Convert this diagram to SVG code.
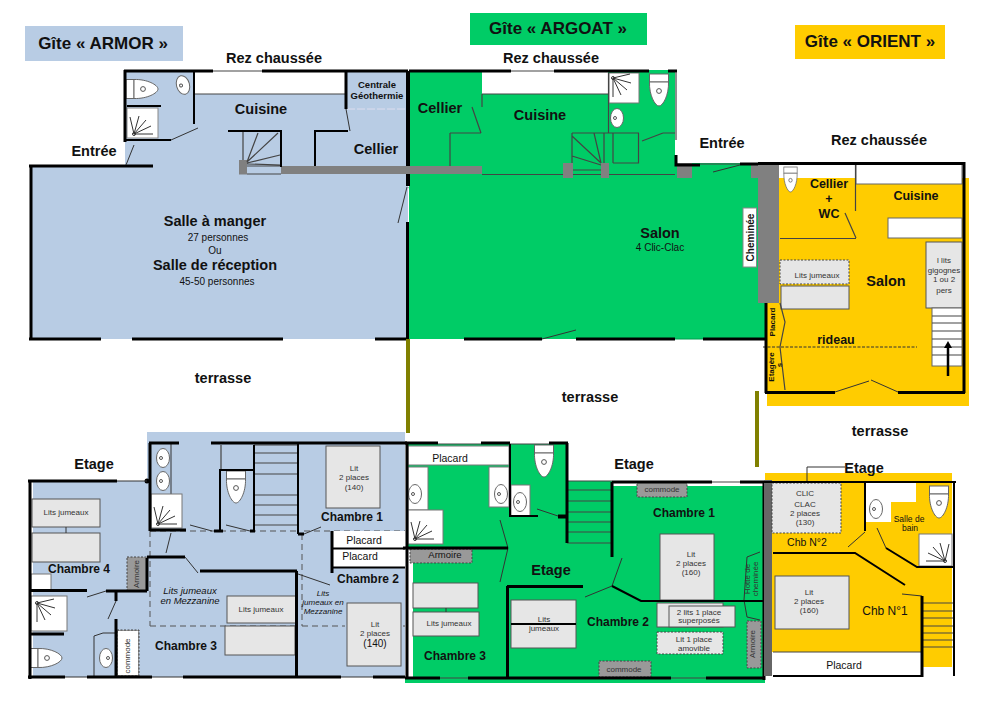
<svg xmlns="http://www.w3.org/2000/svg" xmlns:xlink="http://www.w3.org/1999/xlink" width="1000" height="708" viewBox="0 0 1000 708">
<style>
text{font-family:"Liberation Sans",Arial,sans-serif;fill:#111;text-anchor:middle}
.b{font-weight:bold}
.h{font-weight:bold;font-size:17px}
.r{font-weight:bold;font-size:14.5px}
.m{font-weight:bold;font-size:12px}
.s{font-size:10px}
.x{font-size:8px;fill:#333}
.w,.w2,.w3,.t,.d,.sl{fill:none;stroke-linecap:butt}
.w{stroke:#000;stroke-width:3}
.w2{stroke:#000;stroke-width:2}
.w3{stroke:#000;stroke-width:4}
.t{stroke:#333;stroke-width:1}
.sl{stroke:#444;stroke-width:1.2}
.d{stroke:#555;stroke-width:1;stroke-dasharray:6 4}
.bed{fill:#e6e6e6;stroke:#555;stroke-width:1}
.bd{fill:#e6e6e6;stroke:#444;stroke-width:1;stroke-dasharray:2 1.5}
.g{fill:#808080}
.gd{fill:#999;stroke:#444;stroke-width:1;stroke-dasharray:2 1.5}
.wh{fill:#fff;stroke:#777;stroke-width:1}
.olive{stroke:#808000;stroke-width:4;fill:none}
</style>
<defs>
<g id="fan"><circle r="1.5" fill="none" stroke="#333"/><path class="t" d="M0,0L-4,-17M0,0L5,-18M0,0L12,-14M0,0L17,-8M0,0L19,0"/></g>
<g id="wc"><rect x="-9.500" y="0" width="19" height="8" fill="#fff" stroke="#666"/><path d="M-9.500,8H9.500C10,21 4,32 0,32C-4,32 -10,21 -9.500,8Z" fill="#fff" stroke="#666"/><circle cy="17" r="2.400" fill="none" stroke="#555"/></g>
<g id="sink"><ellipse rx="6.500" ry="9.500" fill="#fff" stroke="#666"/><circle cx="-2" r="1.500" fill="none" stroke="#555"/></g>
</defs>
<rect width="1000" height="708" fill="#fff"/>

<g id="titres">
<rect x="25" y="26" width="158" height="35" fill="#b8cce4"/>
<text x="103" y="49" class="h">Gîte « ARMOR »</text>
<rect x="470" y="13" width="177" height="32" fill="#00cc66"/>
<text x="558" y="34" class="h">Gîte « ARGOAT »</text>
<rect x="795" y="25" width="150" height="34" fill="#ffcc00"/>
<text x="870" y="47" class="h">Gîte « ORIENT »</text>
</g>

<g id="armor-rdc">
<path d="M125,72H408V339H31V166H125Z" fill="#b8cce4"/>
<rect x="194" y="72" width="152" height="22" fill="#fff"/>
<path class="sl" d="M195,94H346"/>
<rect x="127" y="108" width="31" height="30" fill="#fff" stroke="#888"/>
<use xlink:href="#fan" transform="translate(134,134)"/>
<use xlink:href="#wc" transform="translate(126,89) rotate(-90)"/>
<use xlink:href="#sink" transform="translate(183,85) rotate(-15)"/>
<path d="M347,109H408" stroke="#dde" stroke-width="1" stroke-dasharray="8 2"/>
<rect x="281" y="166" width="201" height="8" class="g"/>
<rect x="239" y="160" width="8" height="14.500" class="g"/>
<path class="sl" d="M247,166H281M247,174H281M243,131V160M247,162L258,133M247,162L278,133M247,163L280,155M247,164L281,165"/>
<path class="w" d="M124,71H213M262,71H408M125,70V142M346,70V109"/>
<path class="sl" d="M213,71H262"/>
<path class="w2" d="M127,106H161M125,140H171M194,72V124M228,131H282M281,131V167M315,166V131H348"/>
<path class="w3" d="M408,71V186M408,222V339"/>
<path class="w" d="M29,166H153M31,165V339M29,339H101M132,339H283M375,339H408"/>
<path class="t" d="M171,140L198,128M346,109L350,131M134,145L126,165M407,187L398,223M409,187L419,223"/>
<text x="94" y="156" class="r">Entrée</text>
<text x="274" y="63" class="r">Rez chaussée</text>
<text x="261" y="114" class="r">Cuisine</text>
<text x="376" y="154" class="r">Cellier</text>
<text x="377" y="88" font-size="9.500" class="b">Centrale</text>
<text x="377" y="99" font-size="9.500" class="b">Géothermie</text>
<text x="215" y="226" class="r">Salle à manger</text>
<text x="218" y="241" class="s">27 personnes</text>
<text x="215" y="254" class="s">Ou</text>
<text x="215" y="270" class="r">Salle de réception</text>
<text x="217" y="285" class="s">45-50 personnes</text>
<text x="223" y="383" class="r">terrasse</text>
</g>

<g id="argoat-rdc">
<path d="M409,72H675V163H758V339H409Z" fill="#00cc66"/>
<rect x="758" y="175" width="9" height="164" fill="#00cc66"/>
<rect x="482" y="72" width="126" height="22" fill="#fff"/>
<rect x="400" y="166" width="82" height="8" class="g"/>
<path class="w3" d="M408,71V166M408,174V186"/>
<path class="sl" d="M482,94H608M482,94V107"/>
<rect x="609" y="73" width="30" height="30" fill="#fff" stroke="#777"/>
<use xlink:href="#fan" transform="translate(613,78) rotate(90)"/>
<use xlink:href="#wc" transform="translate(659,74)"/>
<use xlink:href="#sink" transform="translate(617,118)"/>
<path class="sl" d="M608.500,73V133M572,133H639M572,133V165M604,133V163M613,133V163M638.500,133V163H613M572,136L601,163M572,156L601,165M594,133L601,163M482,174.500H675M573,170H601M642,141L663,133M663,133H675M450,133H481M450,133V166M472,107L481,133"/>
<rect x="563" y="163" width="10" height="15" class="g"/>
<rect x="601" y="163" width="8" height="15" class="g"/>
<rect x="677" y="163" width="15" height="15" class="g"/>
<rect x="751" y="163" width="7" height="15" class="g"/>
<path class="w" d="M409,71H511M554,71H649M668,71H677"/>
<path class="sl" d="M511,71H554M676,72V140M700,164H740"/>
<path stroke="#00cc66" stroke-width="2" d="M649,71H668"/>
<path class="w" d="M676,155V165H700M740,164H765M464,339H542M576,339H675M703,339H766"/>
<path class="t" d="M542,339L576,330M713,172L740,165"/>
<path d="M675,339H703" stroke="#00a050" stroke-width="1"/>
<text x="551" y="63" class="r">Rez chaussée</text>
<text x="722" y="148" class="r">Entrée</text>
<text x="440" y="113" class="r">Cellier</text>
<text x="540" y="120" class="r">Cuisine</text>
<text x="660" y="238" class="r">Salon</text>
<text x="660" y="251" class="s">4 Clic-Clac</text>
<text x="590" y="402" class="r">terrasse</text>
</g>

<path class="olive" d="M408,339V433M757,391V467"/>

<g id="orient-rdc">
<rect x="767" y="178" width="202" height="228" fill="#ffcc00"/>
<rect x="780" y="164" width="75" height="14" fill="#fff"/>
<rect x="758" y="163" width="21" height="140" class="g"/>
<rect x="743" y="208" width="13.500" height="59" fill="#fff" stroke="#888"/>
<text transform="translate(753.500,237.500) rotate(-90)" font-size="10" class="b">Cheminée</text>
<rect x="856" y="164" width="106" height="20" fill="#fff" stroke="#666"/>
<rect x="888" y="218" width="74" height="20" fill="#fff" stroke="#666"/>
<rect x="926" y="242" width="36" height="66" class="bed"/>
<rect x="932" y="308" width="30" height="58" fill="#fff" stroke="#666"/>
<path class="sl" d="M932,316H962M932,323H962M932,331H962M932,339H962M932,347H962M932,355H962"/>
<path d="M948,376V346" stroke="#000" stroke-width="2.500"/>
<path d="M944,348L948,341L952,348Z" fill="#000"/>
<rect x="780" y="260" width="69" height="24" class="bd"/>
<rect x="781" y="286" width="68" height="23" class="bed"/>
<use xlink:href="#wc" transform="translate(790.500,167) scale(.7,.78)"/>
<path class="sl" d="M855.500,164V211M780,238.500H856M845,213L856,238M780,303L785,322L780,347L785,390"/>
<path d="M763,347H917" stroke="#333" stroke-dasharray="3 1.500" fill="none"/>
<path class="t" d="M835,392L869,381M871,380L898,392"/>
<path class="w" d="M758,163.500H965M964,162V393M765,392.500H835M898,392.500H965"/>
<path class="w" d="M766,303V393"/>
<text x="879" y="145" class="r">Rez chaussée</text>
<text x="829" y="188" font-size="12.500" class="b">Cellier</text>
<text x="829" y="203" font-size="12.500" class="b">+</text>
<text x="829" y="218" font-size="12.500" class="b">WC</text>
<text x="916" y="200" font-size="12.500" class="b">Cuisine</text>
<text x="886" y="286" class="r">Salon</text>
<text x="836" y="344" font-size="12.500" class="b">rideau</text>
<text x="817" y="278" class="x">Lits jumeaux</text>
<text x="944" y="263" class="x">l lits</text>
<text x="944" y="273" class="x">gigognes</text>
<text x="944" y="282" class="x">1 ou 2</text>
<text x="944" y="293" class="x">pers</text>
<text transform="translate(775,322) rotate(-90)" font-size="8" class="b">Placard</text>
<text transform="translate(774,367) rotate(-90)" font-size="8" class="b">Etagère</text>
<text transform="translate(782,365) rotate(-90)" font-size="8" class="b">s</text>
<text x="880" y="436" class="r">terrasse</text>
</g>

<g id="armor-etage">
<path d="M147,432H405V677H33V481H147Z" fill="#b8cce4"/>
<path class="d" d="M150,531V626M150,626H296M302,534V626M302,626H345M373,626H405M150,531H298M304,531H405"/>
<rect x="31" y="574" width="20" height="17" fill="#fff" stroke="#777"/>
<rect x="32" y="499" width="68" height="28" class="bed"/>
<rect x="32" y="533" width="68" height="29" class="bed"/>
<path class="t" d="M66,527V533"/>
<rect x="127" y="557" width="20" height="34" class="gd"/>
<rect x="117" y="630" width="22" height="46" class="gd"/>
<rect x="118" y="631" width="20" height="44" fill="#fff"/>
<rect x="31" y="596" width="36" height="35" fill="#fff" stroke="#777"/>
<use xlink:href="#fan" transform="translate(37,603) rotate(90)"/>
<use xlink:href="#wc" transform="translate(30,658) rotate(-90)"/>
<path class="t" d="M94,676V636L103,633H116"/>
<use xlink:href="#sink" transform="translate(106,658) rotate(180)"/>
<use xlink:href="#sink" transform="translate(163,458)"/>
<use xlink:href="#sink" transform="translate(163,481)"/>
<path class="t" d="M171,444V495"/>
<rect x="151" y="494" width="31" height="34" fill="#fff" stroke="#777"/>
<use xlink:href="#fan" transform="translate(158,524)"/>
<use xlink:href="#wc" transform="translate(236,471)"/>
<path class="sl" d="M221,445V470M254,445H298M254,453H298M254,463H298M254,474H298M254,495H298M254,505H298M254,515H298M254,525H298"/>
<rect x="326" y="446" width="54" height="62" class="bed"/>
<rect x="347" y="603" width="54" height="63" class="bed"/>
<rect x="227" y="596" width="69" height="27" class="bed"/>
<rect x="225" y="626" width="70" height="29" class="bed"/>
<rect x="333" y="531" width="72" height="17" fill="#fff"/>
<rect x="333" y="549" width="72" height="18" fill="#fff"/>
<path class="w2" d="M333,548.500H405M333,567.500H405"/>
<path class="w" d="M150,443V531M149,443H179M211,443H407M28,481H117M30,480V679M28,677H65M87,677H152M183,677H341M373,677H405"/>
<path class="w2" d="M254,445V531M298,443V534M220,531V470H254"/>
<path class="w" d="M214,531H223M250,531H255M150,530H186M298,534H304M296.500,571V677M200,571H297M147,557H185M29,590.500H87M106,591H147M147,558V591M30,634H64M116,591V601M116,619V678M332,531V573"/>
<circle cx="147" cy="481" r="2.500"/>
<path class="t" d="M117,481H147M65,677H87M152,677H183M341,677H373"/>
<path class="t" d="M190,525L212,531M226,525L250,531M304,534L321,527M298,574L330,585M185,557L198,573M171,533L166,553M87,597L106,591M116,601L108,619"/>
<text x="94" y="469" class="r">Etage</text>
<text x="79" y="573" class="m">Chambre 4</text>
<text x="186" y="650" class="m">Chambre 3</text>
<text x="352" y="521" class="m">Chambre 1</text>
<text x="368" y="583" class="m">Chambre 2</text>
<text x="190" y="594" font-size="9.500" font-style="italic">Lits jumeaux</text>
<text x="190" y="604" font-size="9.500" font-style="italic">en Mezzanine</text>
<text x="323" y="596" font-size="8" font-style="italic">Lits</text>
<text x="323" y="605" font-size="8" font-style="italic">jumeaux en</text>
<text x="323" y="614" font-size="8" font-style="italic">Mezzanine</text>
<text x="66" y="515" class="x">Lits jumeaux</text>
<text x="261" y="612" class="x">Lits jumeaux</text>
<text transform="translate(139,574) rotate(-90)" class="x">Armoire</text>
<text transform="translate(130,656) rotate(-90)" class="x">commode</text>
<text x="354" y="471" class="x">Lit</text>
<text x="354" y="480" class="x">2 places</text>
<text x="354" y="490" class="x">(140)</text>
<text x="375" y="627" class="x">Lit</text>
<text x="375" y="636" class="x">2 places</text>
<text x="375" y="647" class="s">(140)</text>
<text x="364" y="544" font-size="10.500">Placard</text>
<text x="360" y="560" font-size="10.500">Placard</text>
</g>

<g id="argoat-etage">
<path d="M407,444H566V486H765V683H405V678H413V547H407Z" fill="#00cc66"/>
<rect x="408" y="446" width="101" height="19" fill="#fff" stroke="#777"/>
<rect x="408" y="467" width="20" height="43" fill="#fff" stroke="#777"/>
<rect x="489" y="467" width="20" height="40" fill="#fff" stroke="#777"/>
<rect x="511" y="485" width="19" height="31" fill="#fff" stroke="#777"/>
<rect x="408" y="510" width="35" height="34" fill="#fff" stroke="#777"/>
<use xlink:href="#fan" transform="translate(415,539)"/>
<use xlink:href="#sink" transform="translate(415,494)"/>
<use xlink:href="#sink" transform="translate(501,494)"/>
<use xlink:href="#sink" transform="translate(520,502)"/>
<use xlink:href="#wc" transform="translate(544,445)"/>
<rect x="567" y="481" width="45" height="62" fill="#00cc66"/>
<path class="sl" d="M567,481H612M567,490H612M567,501H612M567,512H612M567,522H612M567,532H612M567,543H612"/>
<rect x="410" y="549" width="62" height="14" class="gd"/>
<rect x="413" y="583" width="65" height="25" class="bed"/>
<rect x="413" y="612" width="66" height="24" class="bed"/>
<path class="t" d="M446,608V612"/>
<rect x="511" y="600" width="65" height="48" class="bed"/>
<path class="w2" d="M511,624H576"/>
<rect x="660" y="534" width="54" height="66" class="bed"/>
<rect x="657" y="603" width="66" height="24" class="bed"/>
<rect x="669" y="606" width="66" height="21" class="bed"/>
<rect x="657" y="632" width="66" height="22" class="bd"/>
<rect x="637" y="482" width="50" height="15" class="gd"/>
<rect x="599" y="661" width="52" height="16" class="gd"/>
<rect x="747" y="621" width="14" height="47" class="gd"/>
<path class="t" d="M760,552L747,557L744,600L747,617L760,620"/>
<path class="t" d="M537,509L558,516M508,548L500,520M508,548L500,582M585,597L612,586M612,586L622,558"/>
<path class="sl" d="M438,444H481M510,444H549M440,678H468M671,678H706M712,482H740"/>
<path class="w" d="M407,443V678M405,443H438M481,443H510M549,443H568M567,443V543M612,482V557M612,482H712M740,482H765M764,482V680M405,678H440M468,678H671M706,678H764M403,548H508M507.500,586V678M507,586.500H583"/>
<path class="w2" d="M510,444V517M510,516H538"/>
<path class="w3" d="M558,516.500H568"/>
<path class="w2" d="M612,586L641,601H764"/>
<text x="634" y="469" class="r">Etage</text>
<text x="551" y="575" class="r">Etage</text>
<text x="450" y="462" font-size="10.500">Placard</text>
<text x="445" y="558" font-size="9.500">Armoire</text>
<text x="455" y="660" class="m">Chambre 3</text>
<text x="684" y="517" class="m">Chambre 1</text>
<text x="618" y="626" class="m">Chambre 2</text>
<text x="449" y="626" class="x">Lits jumeaux</text>
<text x="544" y="622" class="x">Lits</text>
<text x="544" y="631" class="x">jumeaux</text>
<text x="691" y="557" class="x">Lit</text>
<text x="691" y="566" class="x">2 places</text>
<text x="691" y="575" class="x">(160)</text>
<text x="699" y="615" class="x">2 lits 1 place</text>
<text x="699" y="623" class="x">superposés</text>
<text x="694" y="642" class="x">Lit 1 place</text>
<text x="694" y="651" class="x">amovible</text>
<text x="662" y="492" class="x">commode</text>
<text x="624" y="672" class="x">commode</text>
<text transform="translate(755,644) rotate(-90)" class="x">Armoire</text>
<text transform="translate(750,579) rotate(-90)" class="x">Hotte de</text>
<text transform="translate(758,579) rotate(-90)" class="x">cheminée</text>
</g>

<g id="orient-etage">
<path d="M765,473H952V667H923V652H772V482H765Z" fill="#ffcc00"/>
<rect x="764" y="480" width="8" height="196" fill="#666"/>
<rect x="773" y="652" width="149" height="22" fill="#fff"/>
<path d="M866,483H916V502H891V522H866Z" fill="#fff"/>
<use xlink:href="#sink" transform="translate(876,509)"/>
<rect x="919" y="534" width="33" height="32" fill="#fff" stroke="#777"/>
<use xlink:href="#fan" transform="translate(945,561) scale(-1,1)"/>
<use xlink:href="#wc" transform="translate(939,486)"/>
<rect x="772" y="483" width="69" height="50" class="bd"/>
<rect x="775" y="576" width="74" height="53" class="bed"/>
<path class="sl" d="M922,603H953M922,611H953M922,618H953M922,626H953M922,633H953M922,640H953M922,647H953M773,652H922"/>
<path class="t" d="M807,482V467H845M865,532L848,547M877,528L886,548M902,594L922,596"/>
<path class="w2" d="M750,482H956M954,482V676M773,676H923"/>
<path class="w2" d="M865,482V531M773,553H855L905,585M886,548L917,567H953"/>
<path class="w" d="M922,596V677"/>
<text x="864" y="473" class="r">Etage</text>
<text x="805" y="496" class="x">CLIC</text>
<text x="805" y="507" class="x">CLAC</text>
<text x="805" y="516" class="x">2 places</text>
<text x="805" y="525" class="x">(130)</text>
<text x="909" y="522" font-size="8.500">Salle de</text>
<text x="910" y="531" font-size="8.500">bain</text>
<text x="807" y="546" font-size="10.500">Chb N°2</text>
<text x="885" y="615" font-size="12">Chb N°1</text>
<text x="809" y="595" class="x">Lit</text>
<text x="809" y="604" class="x">2 places</text>
<text x="809" y="613" class="x">(160)</text>
<text x="844" y="669" font-size="10.500">Placard</text>
</g>
</svg>
